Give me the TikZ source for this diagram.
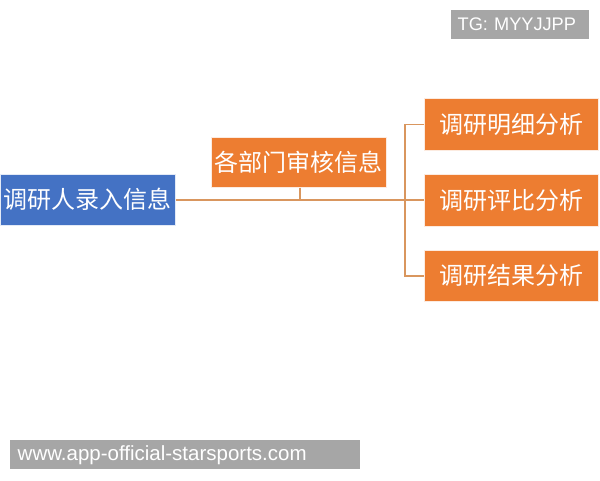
\documentclass[tikz,border=0pt]{standalone}
\usepackage{fontspec}
\setmainfont{Liberation Sans}
\newfontfamily\cjk{Noto Sans CJK SC}
\definecolor{bblue}{HTML}{4472C4}
\definecolor{borange}{HTML}{ED7D31}
\definecolor{lorange}{HTML}{D9965E}
\definecolor{wgray}{HTML}{A6A6A6}
\begin{document}
\begin{tikzpicture}[x=1pt,y=-1pt,
  box/.style={draw=white!85!borange,line width=0.6pt,fill=borange,text=white,font=\cjk\fontsize{24}{27}\selectfont,inner sep=0pt,anchor=north west},
  conn/.style={draw=lorange,line width=1.4pt},
  wm/.style={fill=wgray,text=white,inner sep=0pt,anchor=north west}]
\useasboundingbox (0,0) rectangle (600,480);
\node[box,fill=bblue,draw=white!85!bblue,minimum width=175pt,minimum height=51pt] (a) at (0,174) {调研人录入信息};
\node[box,minimum width=175pt,minimum height=50pt] (b) at (211,137) {各部门审核信息};
\node[box,minimum width=174pt,minimum height=52pt] (c1) at (424,98) {调研明细分析};
\node[box,minimum width=174pt,minimum height=52pt] (c2) at (424,174) {调研评比分析};
\node[box,minimum width=174pt,minimum height=51pt] (c3) at (424,250) {调研结果分析};
\coordinate (j) at (405,200);
\coordinate (t) at (300,200);
\draw[conn] (a.east |- j) -- (j);
\draw[conn] (b.south -| t) -- (t);
\draw[conn] (c1.west) -| (j) |- (c3.west);
\draw[conn] (j) -- (c2.west |- j);
\node[wm,font=\fontsize{18.2}{21}\selectfont,minimum width=138pt,minimum height=29pt,text width=133pt,align=left] (tg) at (451,10) {\hspace*{4pt}TG: MYYJJPP};
\node[wm,font=\fontsize{20.5}{23}\selectfont,minimum width=350pt,minimum height=29pt,text width=343pt,align=left] (www) at (10,440) {\hspace*{4pt}www.app-official-starsports.com};
\end{tikzpicture}
\end{document}
